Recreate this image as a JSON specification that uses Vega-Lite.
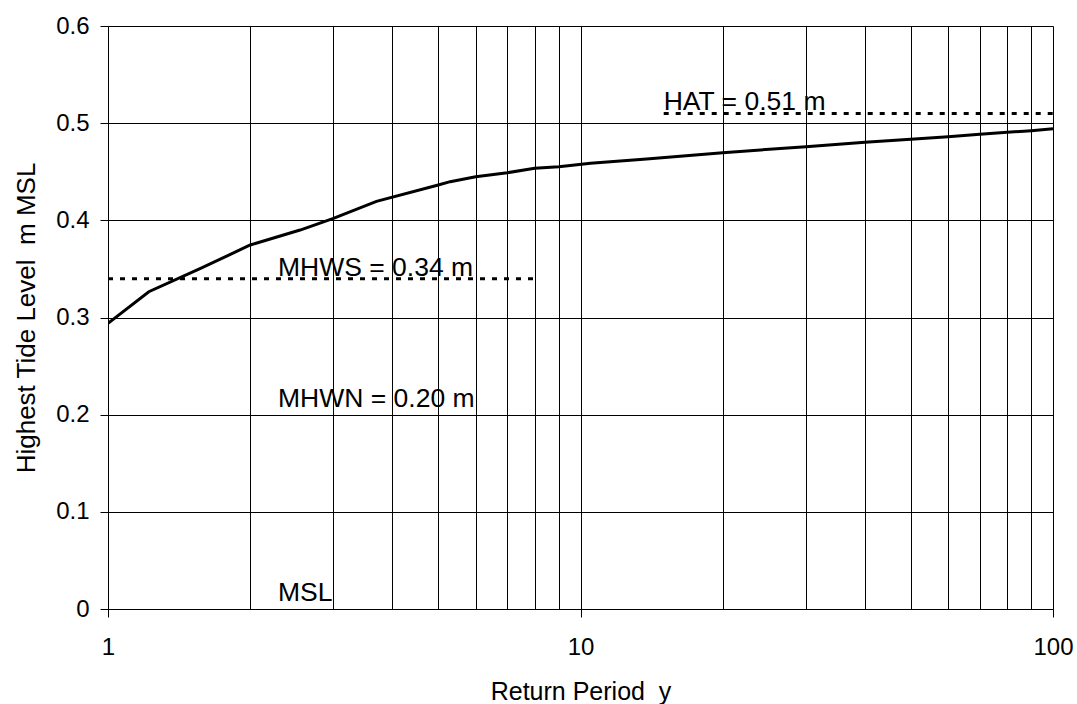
{
  "$schema": "https://vega.github.io/schema/vega-lite/v6.json",
  "width": 945,
  "height": 583,
  "autosize": {"type": "none"},
  "padding": {"left": 108, "top": 26, "right": 24, "bottom": 95},
  "background": "white",
  "config": {
    "font": "Liberation Sans",
    "view": {"stroke": null},
    "axis": {
      "domainColor": "#000000",
      "domainWidth": 1,
      "tickColor": "#000000",
      "tickWidth": 1,
      "tickSize": 8,
      "gridColor": "#000000",
      "gridWidth": 1,
      "gridOpacity": 1,
      "labelColor": "#000000",
      "labelFont": "Liberation Sans",
      "labelFontSize": 24,
      "titleColor": "#000000",
      "titleFont": "Liberation Sans",
      "titleFontSize": 25,
      "titleFontWeight": "normal"
    }
  },
  "datasets": {
    "curve": [
      {"T": 1, "level": 0.294},
      {"T": 1.22, "level": 0.3265},
      {"T": 1.57, "level": 0.3505},
      {"T": 2, "level": 0.3746},
      {"T": 2.55, "level": 0.390},
      {"T": 3, "level": 0.402},
      {"T": 3.7, "level": 0.4195},
      {"T": 5, "level": 0.4364},
      {"T": 5.3, "level": 0.4398},
      {"T": 6, "level": 0.4449},
      {"T": 7, "level": 0.449},
      {"T": 8, "level": 0.4535},
      {"T": 9, "level": 0.4552},
      {"T": 10.5, "level": 0.4587},
      {"T": 13.8, "level": 0.4631},
      {"T": 20, "level": 0.4696},
      {"T": 30, "level": 0.4758},
      {"T": 40, "level": 0.4803},
      {"T": 50, "level": 0.4834},
      {"T": 60, "level": 0.4861},
      {"T": 70, "level": 0.4886},
      {"T": 80, "level": 0.4906},
      {"T": 90, "level": 0.4923},
      {"T": 100, "level": 0.4943}
    ],
    "datums": [
      {"name": "HAT", "level": 0.51, "from": 15, "to": 100, "labelT": 15, "label": "HAT = 0.51 m", "drawn": true},
      {"name": "MHWS", "level": 0.34, "from": 1, "to": 8, "labelT": 2.29, "label": "MHWS = 0.34 m", "drawn": true},
      {"name": "MHWN", "level": 0.20, "from": 1, "to": 8, "labelT": 2.29, "label": "MHWN = 0.20 m", "drawn": false},
      {"name": "MSL", "level": 0, "from": 1, "to": 8, "labelT": 2.29, "label": "MSL", "drawn": false}
    ]
  },
  "layer": [
    {
      "data": {"name": "curve"},
      "mark": {"type": "line", "color": "#000000", "strokeWidth": 3, "clip": true},
      "encoding": {
        "x": {
          "field": "T",
          "type": "quantitative",
          "scale": {"type": "log", "domain": [1, 100], "nice": false},
          "axis": {
            "title": "Return Period \u00a0y",
            "values": [1, 2, 3, 4, 5, 6, 7, 8, 9, 10, 20, 30, 40, 50, 60, 70, 80, 90, 100],
            "labelExpr": "indexof([1, 10, 100], datum.value) >= 0 ? datum.value : ''",
            "tickOpacity": {"condition": {"test": "indexof([1, 10, 100], datum.value) >= 0", "value": 1}, "value": 0},
            "labelPadding": 18,
            "titlePadding": 20,
            "labelFlush": false,
            "labelOverlap": false
          }
        },
        "y": {
          "field": "level",
          "type": "quantitative",
          "scale": {"domain": [0, 0.6], "nice": false, "zero": true},
          "axis": {
            "title": "Highest Tide Level \u00a0m MSL",
            "titleFontSize": 26,
            "values": [0, 0.1, 0.2, 0.3, 0.4, 0.5, 0.6],
            "format": "~g",
            "labelPadding": 11,
            "titlePadding": 16
          }
        }
      }
    },
    {
      "data": {"name": "datums"},
      "transform": [{"filter": "datum.drawn"}],
      "mark": {"type": "rule", "color": "#000000", "strokeWidth": 3, "strokeDash": [5, 7]},
      "encoding": {
        "x": {"field": "from", "type": "quantitative"},
        "x2": {"field": "to"},
        "y": {"field": "level", "type": "quantitative"}
      }
    },
    {
      "data": {"name": "datums"},
      "transform": [{"filter": "datum.drawn"}],
      "mark": {"type": "text", "align": "left", "baseline": "alphabetic", "dy": -3, "fontSize": 26.5, "font": "Liberation Sans", "color": "#000000"},
      "encoding": {
        "x": {"field": "labelT", "type": "quantitative"},
        "y": {"field": "level", "type": "quantitative"},
        "text": {"field": "label"}
      }
    },
    {
      "data": {"name": "datums"},
      "transform": [{"filter": "!datum.drawn"}],
      "mark": {"type": "text", "align": "left", "baseline": "alphabetic", "dy": -8, "fontSize": 26.5, "font": "Liberation Sans", "color": "#000000"},
      "encoding": {
        "x": {"field": "labelT", "type": "quantitative"},
        "y": {"field": "level", "type": "quantitative"},
        "text": {"field": "label"}
      }
    }
  ]
}
